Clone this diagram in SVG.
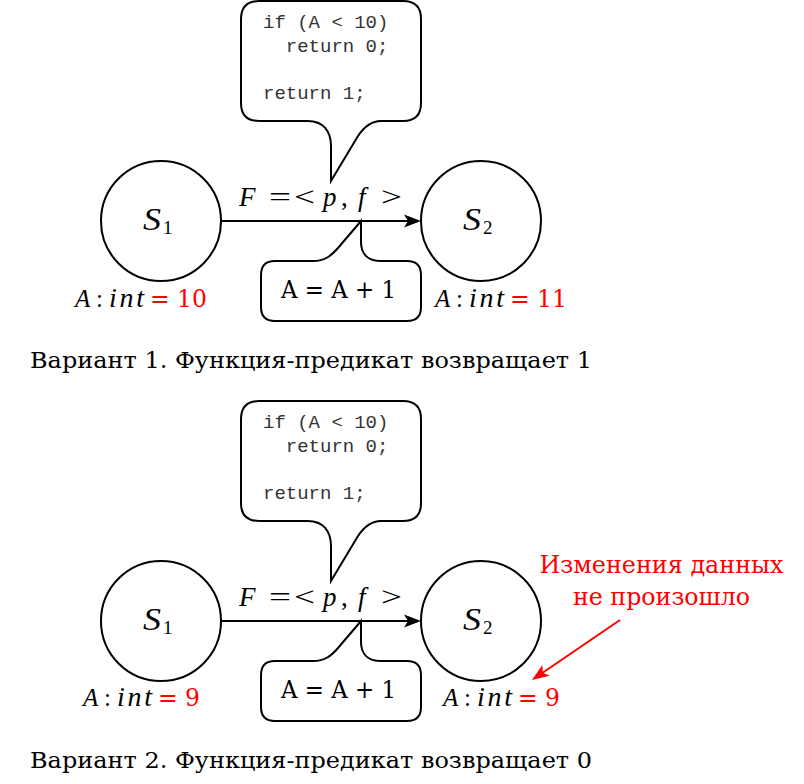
<svg xmlns="http://www.w3.org/2000/svg" width="804" height="784" viewBox="0 0 804 784">
<defs>
<marker id="arrB" viewBox="-10 -8 20 16" refX="0" refY="0" markerWidth="20" markerHeight="16" markerUnits="userSpaceOnUse" orient="auto">
<path d="M 8 0 L -9 -6.5 L -5 0 L -9 6.5 Z" fill="#000"/>
</marker>
<marker id="arrR" viewBox="-10 -8 20 16" refX="0" refY="0" markerWidth="20" markerHeight="16" markerUnits="userSpaceOnUse" orient="auto">
<path d="M 8 0 L -9 -6.5 L -5 0 L -9 6.5 Z" fill="#ff0000"/>
</marker>
</defs>
<style>
.shape{fill:#fff;stroke:#000;stroke-width:2}
.edge{fill:none;stroke:#000;stroke-width:2}
.code{font-family:"Liberation Mono",monospace;font-size:19px;fill:#333}
.mi{font-family:"Liberation Serif",serif;font-style:italic;fill:#000}
.mn{font-family:"Liberation Serif",serif;fill:#000}
.txt{font-family:"DejaVu Serif",serif;fill:#000}
.red{font-family:"DejaVu Serif",serif;fill:#ff0000}
</style>

<!-- ===== Variant 1 ===== -->
<g id="connectors1">
<line class="edge" x1="221" y1="221" x2="413" y2="221" marker-end="url(#arrB)"/>
</g>
<g id="s1-top">
<circle class="shape" cx="161" cy="221" r="60"/>
<text class="mi" x="143" y="230" font-size="31" textLength="18" lengthAdjust="spacingAndGlyphs">S</text>
<text class="mn" x="163" y="234" font-size="19">1</text>
</g>
<g id="s2-top">
<circle class="shape" cx="481" cy="221" r="60"/>
<text class="mi" x="463" y="230" font-size="31" textLength="18" lengthAdjust="spacingAndGlyphs">S</text>
<text class="mn" x="483" y="234" font-size="19">2</text>
</g>
<g id="callout-code-top">
<path class="shape" d="M 259 1 L 403 1 Q 421 1 421 19 L 421 103 Q 421 121 403 121 L 381 121 C 371 121 364 127 358 136 L 331 181 L 331 146 C 331 131 323 121 308 121 L 259 121 Q 241 121 241 103 L 241 19 Q 241 1 259 1 Z"/>
<text class="code" x="263" y="28" xml:space="preserve">if (A &lt; 10)</text>
<text class="code" x="263" y="51.5" xml:space="preserve">  return 0;</text>
<text class="code" x="263" y="98.5" xml:space="preserve">return 1;</text>
</g>
<g id="label-F-top">
<text class="mi" x="239" y="206" font-size="27">F</text>
<text class="mn" x="269" y="206" font-size="27" textLength="22" lengthAdjust="spacingAndGlyphs">=</text>
<text class="mn" x="294" y="206" font-size="27" textLength="21" lengthAdjust="spacingAndGlyphs">&lt;</text>
<text class="mi" x="323" y="206" font-size="27">p</text>
<text class="mn" x="341" y="206" font-size="27">,</text>
<text class="mi" x="358" y="206" font-size="27">f</text>
<text class="mn" x="381" y="206" font-size="27" textLength="21" lengthAdjust="spacingAndGlyphs">&gt;</text>
</g>
<g id="callout-f-top">
<path class="shape" d="M 275 261 L 313 261 C 325 261 331 256 338 248 L 361 221 L 361 242 C 361 254 368 261 381 261 L 407 261 Q 421 261 421 275 L 421 307 Q 421 321 407 321 L 275 321 Q 261 321 261 307 L 261 275 Q 261 261 275 261 Z"/>
<text class="txt" x="281" y="298" font-size="24" textLength="115" lengthAdjust="spacingAndGlyphs">A = A + 1</text>
</g>
<g id="label-A-left-top">
<text class="mi" x="75" y="307" font-size="25">A</text>
<text class="mn" x="96" y="307" font-size="25">:</text>
<text class="mi" x="109" y="307" font-size="28" textLength="35" lengthAdjust="spacing">int</text>
<text class="red" x="150" y="307" font-size="25" textLength="57" lengthAdjust="spacingAndGlyphs">= 10</text>
</g>
<g id="label-A-right-top">
<text class="mi" x="435" y="307" font-size="25">A</text>
<text class="mn" x="456" y="307" font-size="25">:</text>
<text class="mi" x="469" y="307" font-size="28" textLength="35" lengthAdjust="spacing">int</text>
<text class="red" x="510" y="307" font-size="25" textLength="57" lengthAdjust="spacingAndGlyphs">= 11</text>
</g>
<g id="caption-1">
<text class="txt" x="30" y="368" font-size="22" textLength="562" lengthAdjust="spacingAndGlyphs">Вариант 1. Функция-предикат возвращает 1</text>
</g>

<!-- ===== Variant 2 ===== -->
<g id="connectors2">
<line class="edge" x1="221" y1="621" x2="413" y2="621" marker-end="url(#arrB)"/>
<line fill="none" stroke="#ff0000" stroke-width="2" x1="620" y1="620" x2="538.6" y2="675.5" marker-end="url(#arrR)"/>
</g>
<g id="s1-bottom">
<circle class="shape" cx="161" cy="621" r="60"/>
<text class="mi" x="143" y="630" font-size="31" textLength="18" lengthAdjust="spacingAndGlyphs">S</text>
<text class="mn" x="163" y="634" font-size="19">1</text>
</g>
<g id="s2-bottom">
<circle class="shape" cx="481" cy="621" r="60"/>
<text class="mi" x="463" y="630" font-size="31" textLength="18" lengthAdjust="spacingAndGlyphs">S</text>
<text class="mn" x="483" y="634" font-size="19">2</text>
</g>
<g id="callout-code-bottom">
<path class="shape" d="M 259 401 L 403 401 Q 421 401 421 419 L 421 503 Q 421 521 403 521 L 381 521 C 371 521 364 527 358 536 L 331 581 L 331 546 C 331 531 323 521 308 521 L 259 521 Q 241 521 241 503 L 241 419 Q 241 401 259 401 Z"/>
<text class="code" x="263" y="428" xml:space="preserve">if (A &lt; 10)</text>
<text class="code" x="263" y="451.5" xml:space="preserve">  return 0;</text>
<text class="code" x="263" y="498.5" xml:space="preserve">return 1;</text>
</g>
<g id="label-F-bottom">
<text class="mi" x="239" y="606" font-size="27">F</text>
<text class="mn" x="269" y="606" font-size="27" textLength="22" lengthAdjust="spacingAndGlyphs">=</text>
<text class="mn" x="294" y="606" font-size="27" textLength="21" lengthAdjust="spacingAndGlyphs">&lt;</text>
<text class="mi" x="323" y="606" font-size="27">p</text>
<text class="mn" x="341" y="606" font-size="27">,</text>
<text class="mi" x="358" y="606" font-size="27">f</text>
<text class="mn" x="381" y="606" font-size="27" textLength="21" lengthAdjust="spacingAndGlyphs">&gt;</text>
</g>
<g id="callout-f-bottom">
<path class="shape" d="M 275 661 L 313 661 C 325 661 331 656 338 648 L 361 621 L 361 642 C 361 654 368 661 381 661 L 407 661 Q 421 661 421 675 L 421 707 Q 421 721 407 721 L 275 721 Q 261 721 261 707 L 261 675 Q 261 661 275 661 Z"/>
<text class="txt" x="281" y="698" font-size="24" textLength="115" lengthAdjust="spacingAndGlyphs">A = A + 1</text>
</g>
<g id="label-A-left-bottom">
<text class="mi" x="83" y="706" font-size="25">A</text>
<text class="mn" x="104" y="706" font-size="25">:</text>
<text class="mi" x="117" y="706" font-size="28" textLength="35" lengthAdjust="spacing">int</text>
<text class="red" x="158" y="706" font-size="25" textLength="42" lengthAdjust="spacingAndGlyphs">= 9</text>
</g>
<g id="label-A-right-bottom">
<text class="mi" x="443" y="706" font-size="25">A</text>
<text class="mn" x="464" y="706" font-size="25">:</text>
<text class="mi" x="477" y="706" font-size="28" textLength="35" lengthAdjust="spacing">int</text>
<text class="red" x="518" y="706" font-size="25" textLength="42" lengthAdjust="spacingAndGlyphs">= 9</text>
</g>
<g id="note-no-change">
<text class="red" x="661.5" y="573" font-size="24" text-anchor="middle" textLength="244" lengthAdjust="spacingAndGlyphs">Изменения данных</text>
<text class="red" x="661.5" y="605" font-size="24" text-anchor="middle" textLength="177" lengthAdjust="spacingAndGlyphs">не произошло</text>
</g>
<g id="caption-2">
<text class="txt" x="30" y="768" font-size="22" textLength="562" lengthAdjust="spacingAndGlyphs">Вариант 2. Функция-предикат возвращает 0</text>
</g>
</svg>
